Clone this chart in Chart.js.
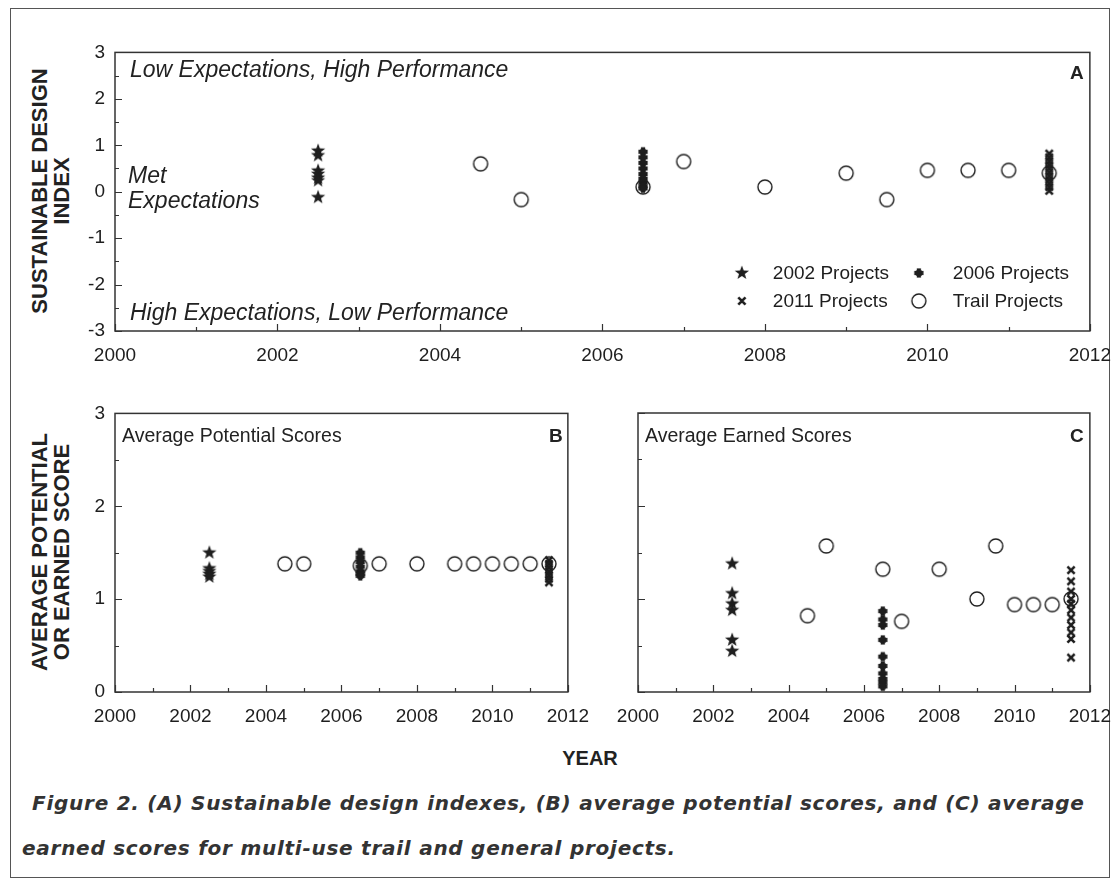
<!DOCTYPE html>
<html>
<head>
<meta charset="utf-8">
<script src="https://cdn.jsdelivr.net/npm/chart.js@4.4.1/dist/chart.umd.min.js"></script>
<style>
  body { margin: 0; background: #fff; }
  #page { position: relative; width: 1119px; height: 886px; overflow: hidden; font-family: "Liberation Sans", Arial, sans-serif; color: #222; }
  #frame { position: absolute; left: 10px; top: 8px; width: 1100px; height: 870px; border: 1.5px solid #555; box-sizing: border-box; }
  canvas { position: absolute; }
  .t { position: absolute; white-space: nowrap; line-height: 1; }
  .note { font-style: italic; font-size: 23px; }
  .panel { font-size: 19.5px; }
  .letter { font-weight: bold; font-size: 19px; }
  .ytitle { position: absolute; font-weight: bold; font-size: 22px; text-align: center; line-height: 22px; transform: translate(-50%, -50%) rotate(-90deg); white-space: nowrap; }
  .cap { position: absolute; font-family: "DejaVu Sans", sans-serif; font-weight: bold; font-style: italic; font-size: 20px; color: #333; white-space: nowrap; line-height: 1; }
</style>
</head>
<body>
<div id="page">
  <div id="frame"></div>

  <canvas id="chartA" width="600" height="300"></canvas>
  <canvas id="chartB" width="400" height="300"></canvas>
  <canvas id="chartC" width="400" height="300"></canvas>

  <div class="t note" style="left:130px; top:58px;">Low Expectations, High Performance</div>
  <div class="t note" style="left:128px; top:164px;">Met</div>
  <div class="t note" style="left:128px; top:189px;">Expectations</div>
  <div class="t note" style="left:130px; top:301px;">High Expectations, Low Performance</div>
  <div class="t letter" style="left:1070px; top:63px;">A</div>

  <div class="t panel" style="left:122px; top:426px;">Average Potential Scores</div>
  <div class="t letter" style="left:549px; top:426px;">B</div>
  <div class="t panel" style="left:645px; top:426px;">Average Earned Scores</div>
  <div class="t letter" style="left:1070px; top:426px;">C</div>

  <div class="t" style="left:590px; top:748px; font-weight:bold; font-size:20px; transform:translateX(-50%);">YEAR</div>
  <div class="ytitle" style="left:51px; top:191px;">SUSTAINABLE DESIGN<br>INDEX</div>
  <div class="ytitle" style="left:51px; top:552px;">AVERAGE POTENTIAL<br>OR EARNED SCORE</div>

  <div class="cap" id="cap1" style="left:32px; top:793px;">Figure 2. (A) Sustainable design indexes, (B) average potential scores, and (C) average</div>
  <div class="cap" id="cap2" style="left:22px; top:838px;">earned scores for multi-use trail and general projects.</div>
</div>

<script>
// years at which each project group is plotted
const YEAR_2002 = 2002.5;
const YEAR_2006 = 2006.5;
const YEAR_2011 = 2011.5;
const trailYears = [2004.5, 2005, 2006.5, 2007, 2008, 2009, 2009.5, 2010, 2010.5, 2011, 2011.5];

// (A) sustainable design index
const indexTrail = [0.6, -0.17, 0.1, 0.65, 0.1, 0.4, -0.17, 0.46, 0.46, 0.46, 0.4];
const index2002 = [0.88, 0.78, 0.45, 0.38, 0.3, 0.24, -0.12];
const index2006 = [0.86, 0.74, 0.62, 0.5, 0.38, 0.28, 0.2, 0.12, 0.07];
const index2011 = [0.82, 0.74, 0.66, 0.58, 0.5, 0.42, 0.34, 0.26, 0.18, 0.1, 0.02];

// (B) average potential scores
const potentialTrail = [1.38, 1.38, 1.36, 1.38, 1.38, 1.38, 1.38, 1.38, 1.38, 1.38, 1.38];
const potential2002 = [1.5, 1.33, 1.3, 1.27, 1.24];
const potential2006 = [1.5, 1.45, 1.4, 1.35, 1.3, 1.27, 1.25];
const potential2011 = [1.42, 1.38, 1.34, 1.3, 1.26, 1.22, 1.18];

// (C) average earned scores
const earnedTrail = [0.82, 1.57, 1.32, 0.76, 1.32, 1.0, 1.57, 0.94, 0.94, 0.94, 1.0];
const earned2002 = [1.38, 1.06, 0.95, 0.88, 0.56, 0.44];
const earned2006 = [0.87, 0.78, 0.72, 0.56, 0.38, 0.28, 0.2, 0.14, 0.1, 0.06];
const earned2011 = [1.31, 1.19, 1.08, 1.0, 0.95, 0.88, 0.8, 0.72, 0.64, 0.57, 0.37];

const legendLabels = ['2002 Projects', '2006 Projects', '2011 Projects', 'Trail Projects'];

const INK = '#1e1e1e';
const FONT = '"Liberation Sans", Arial, sans-serif';

// marker images
function marker(draw) {
  const c = document.createElement('canvas');
  c.width = 18; c.height = 18;
  const g = c.getContext('2d');
  g.translate(9, 9);
  g.fillStyle = INK; g.strokeStyle = INK;
  draw(g);
  return c;
}
const starImg = marker(g => {
  g.beginPath();
  for (let i = 0; i < 10; i++) {
    const r = i % 2 === 0 ? 7.5 : 3.1;
    const a = -Math.PI / 2 + i * Math.PI / 5;
    g.lineTo(r * Math.cos(a), r * Math.sin(a));
  }
  g.closePath(); g.fill();
});
const blobImg = marker(g => {
  g.fillRect(-4.6, -2.1, 9.2, 4.2);
  g.fillRect(-2.1, -4.6, 4.2, 9.2);
  g.beginPath(); g.arc(0, 0, 3.5, 0, Math.PI * 2); g.fill();
});
const crossImg = marker(g => {
  g.lineWidth = 2.6;
  g.beginPath();
  g.moveTo(-3.6, -3.6); g.lineTo(3.6, 3.6);
  g.moveTo(3.6, -3.6); g.lineTo(-3.6, 3.6);
  g.stroke();
});
const circleImg = marker(g => {
  g.lineWidth = 1.4;
  g.beginPath(); g.arc(0, 0, 7, 0, Math.PI * 2); g.stroke();
});

function column(year, values) {
  return values.map(v => ({ x: year, y: v }));
}
function trail(values) {
  return values.map((v, i) => ({ x: trailYears[i], y: v }));
}
function ds(label, data, img) {
  return { label, data, pointStyle: img, pointRadius: 7, pointHoverRadius: 7, showLine: false };
}

// box around the plot and inward tick marks
const frameTicks = {
  id: 'frameTicks',
  afterDraw(chart) {
    const { ctx, chartArea: a, scales: { x, y } } = chart;
    ctx.save();
    ctx.strokeStyle = '#333';
    ctx.lineWidth = 1.5;
    ctx.strokeRect(a.left, a.top, a.right - a.left, a.bottom - a.top);
    ctx.lineWidth = 1.2;
    ctx.beginPath();
    for (let v = x.min; v <= x.max; v += 1) {
      const px = Math.round(x.getPixelForValue(v)) + 0.5;
      const len = v % 2 === 0 ? 7 : 4;
      ctx.moveTo(px, a.bottom); ctx.lineTo(px, a.bottom - len);
    }
    for (let v = y.min; v <= y.max + 1e-9; v += 0.5) {
      const py = Math.round(y.getPixelForValue(v)) + 0.5;
      const len = Number.isInteger(v) ? 7 : 4;
      ctx.moveTo(a.left, py); ctx.lineTo(a.left + len, py);
    }
    ctx.stroke();
    ctx.restore();
  }
};

// legend box of panel A
const legendA = {
  id: 'legendA',
  afterDraw(chart) {
    const { ctx, chartArea: a } = chart;
    const imgs = [starImg, blobImg, crossImg, circleImg];
    const cols = [[a.right - 348, a.right - 317], [a.right - 171, a.right - 137]];
    const rows = [a.bottom - 58, a.bottom - 30];
    ctx.save();
    ctx.font = '19px ' + FONT;
    ctx.fillStyle = INK;
    ctx.textBaseline = 'middle';
    legendLabels.forEach((lab, i) => {
      const c = cols[i % 2], r = rows[Math.floor(i / 2)];
      ctx.drawImage(imgs[i], c[0] - 9, r - 9);
      ctx.fillText(lab, c[1], r + 1);
    });
    ctx.restore();
  }
};

function config(datasets, yMin, yMax, showY, plugins) {
  return {
    type: 'scatter',
    data: { datasets },
    options: {
      responsive: false,
      maintainAspectRatio: false,
      animation: false,
      events: [],
      layout: { padding: 0 },
      plugins: { legend: { display: false }, tooltip: { enabled: false } },
      scales: {
        x: {
          type: 'linear', min: 2000, max: 2012,
          grid: { display: false, drawTicks: false },
          border: { display: false },
          ticks: { stepSize: 2, padding: 13, color: INK, font: { family: FONT, size: 19 }, callback: v => String(v) },
          afterFit: s => { s.height = 40; }
        },
        y: {
          type: 'linear', min: yMin, max: yMax,
          grid: { display: false, drawTicks: false },
          border: { display: false },
          ticks: { display: showY, stepSize: 1, padding: 10, color: INK, font: { family: FONT, size: 19 } },
          afterFit: s => { s.width = 40; }
        }
      }
    },
    plugins: [frameTicks].concat(plugins || [])
  };
}

// build once to learn the space taken by the axes, then size the canvas
// so that the plot area lands on the wanted box
function panel(id, makeCfg, box) {
  const cv = document.getElementById(id);
  const probe = new Chart(cv, makeCfg());
  const a = probe.chartArea;
  const padL = a.left, padT = a.top, padR = probe.width - a.right, padB = probe.height - a.bottom;
  probe.destroy();
  cv.width = Math.round(box.right - box.left + padL + padR);
  cv.height = Math.round(box.bottom - box.top + padT + padB);
  cv.style.left = Math.round(box.left - padL) + 'px';
  cv.style.top = Math.round(box.top - padT) + 'px';
  return new Chart(cv, makeCfg());
}

panel('chartA', () => config([
  ds('Trail Projects', trail(indexTrail), circleImg),
  ds('2002 Projects', column(YEAR_2002, index2002), starImg),
  ds('2006 Projects', column(YEAR_2006, index2006), blobImg),
  ds('2011 Projects', column(YEAR_2011, index2011), crossImg)
], -3, 3, true, [legendA]), { left: 115, top: 52, right: 1090, bottom: 331 });

panel('chartB', () => config([
  ds('Trail Projects', trail(potentialTrail), circleImg),
  ds('2002 Projects', column(YEAR_2002, potential2002), starImg),
  ds('2006 Projects', column(YEAR_2006, potential2006), blobImg),
  ds('2011 Projects', column(YEAR_2011, potential2011), crossImg)
], 0, 3, true), { left: 115, top: 413, right: 568, bottom: 692 });

panel('chartC', () => config([
  ds('Trail Projects', trail(earnedTrail), circleImg),
  ds('2002 Projects', column(YEAR_2002, earned2002), starImg),
  ds('2006 Projects', column(YEAR_2006, earned2006), blobImg),
  ds('2011 Projects', column(YEAR_2011, earned2011), crossImg)
], 0, 3, false), { left: 638, top: 413, right: 1090, bottom: 692 });

// stretch caption line 1 to the reference width
(function () {
  const el = document.getElementById('cap1');
  const w = el.getBoundingClientRect().width;
  const n = el.textContent.length;
  const ls = (1053 - w) / n;
  document.querySelectorAll('.cap').forEach(c => { c.style.letterSpacing = ls.toFixed(2) + 'px'; });
})();
</script>
</body>
</html>
